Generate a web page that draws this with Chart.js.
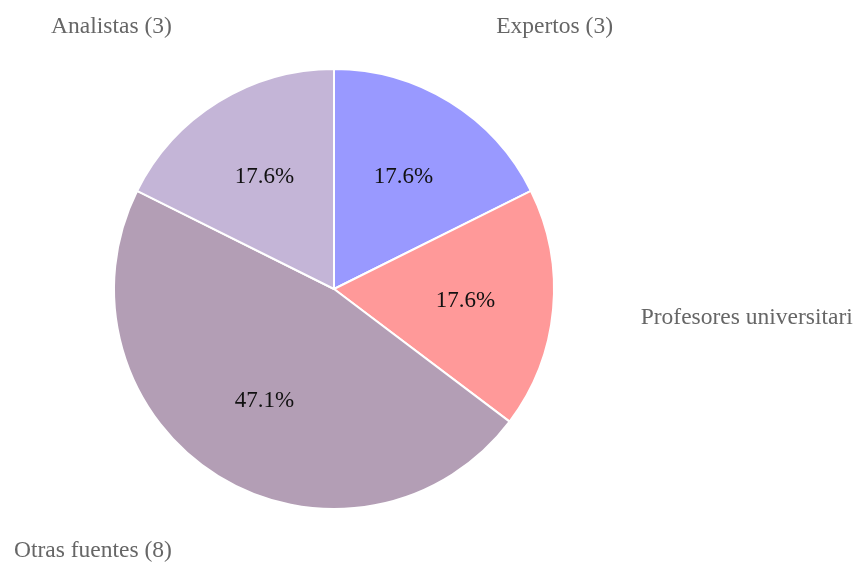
<!DOCTYPE html>
<html>
<head>
<meta charset="utf-8">
<script src="https://cdn.jsdelivr.net/npm/chart.js@4"></script>
<style>
html,body{margin:0;padding:0;background:#fff;}
#wrap{width:853px;height:566px;}
</style>
</head>
<body>
<div id="wrap"><canvas id="c" width="853" height="566"></canvas></div>
<script>
const categories = ["Expertos", "Profesores universitarios", "Otras fuentes", "Analistas"];
const values = [3, 3, 8, 3];
const colors = ["#9999ff", "#ff9999", "#b39eb5", "#c4b5d7"];

const labelPlugin = {
  id: 'sliceLabels',
  afterDatasetsDraw(chart) {
    const ctx = chart.ctx;
    const meta = chart.getDatasetMeta(0);
    const data = chart.data.datasets[0].data;
    const total = data.reduce((a, b) => a + b, 0);
    ctx.save();
    meta.data.forEach((arc, i) => {
      const p = arc.getProps(['x', 'y', 'startAngle', 'endAngle', 'outerRadius'], true);
      const mid = (p.startAngle + p.endAngle) / 2;
      const cx = Math.cos(mid), cy = Math.sin(mid);
      // percentage inside
      ctx.font = '23px "Liberation Serif", "Times New Roman", serif';
      ctx.fillStyle = '#111';
      ctx.textAlign = 'center';
      ctx.textBaseline = 'middle';
      const r1 = p.outerRadius * 0.6;
      ctx.fillText((data[i] / total * 100).toFixed(1) + '%', p.x + cx * r1, p.y + cy * r1);
      // outer label
      ctx.font = '23.5px "Liberation Serif", "Times New Roman", serif';
      const r2 = p.outerRadius * 1.4;
      ctx.fillStyle = '#666';
      ctx.textAlign = cx >= 0 ? 'left' : 'right';
      ctx.fillText(chart.data.labels[i] + ' (' + data[i] + ')', p.x + cx * r2, p.y + cy * r2);
    });
    ctx.restore();
  }
};

new Chart(document.getElementById('c'), {
  type: 'pie',
  data: {
    labels: categories,
    datasets: [{
      data: values,
      backgroundColor: colors,
      borderColor: '#ffffff',
      borderWidth: 2,
      hoverOffset: 0,
      radius: 220
    }]
  },
  options: {
    responsive: false,
    animation: false,
    layout: { padding: { left: 0, right: 185, top: 12, bottom: 0 } },
    plugins: {
      legend: { display: false },
      tooltip: { enabled: false }
    }
  },
  plugins: [labelPlugin]
});
</script>
</body>
</html>
